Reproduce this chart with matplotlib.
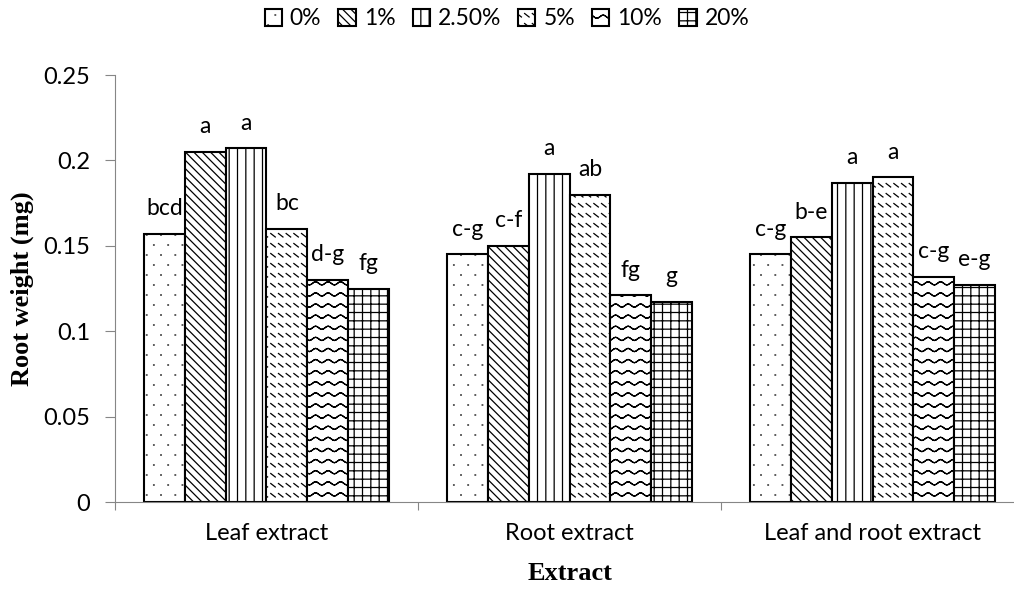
import warnings
import numpy as np
import matplotlib
matplotlib.use("Agg")
import matplotlib.pyplot as plt
import matplotlib.hatch as mhatch
from matplotlib.path import Path

warnings.filterwarnings("ignore")

# data
extracts = ["Leaf extract", "Root extract", "Leaf and root extract"]
levels = ["0%", "1%", "2.50%", "5%", "10%", "20%"]
leaf = [0.157, 0.205, 0.207, 0.160, 0.130, 0.125]
root = [0.145, 0.150, 0.192, 0.180, 0.121, 0.117]
leaf_root = [0.145, 0.155, 0.187, 0.190, 0.132, 0.127]
leaf_letters = ["bcd", "a", "a", "bc", "d-g", "fg"]
root_letters = ["c-g", "c-f", "a", "ab", "fg", "g"]
leaf_root_letters = ["c-g", "b-e", "a", "a", "c-g", "e-g"]


# custom hatches: sparse dots (p), short backslash strokes (k), waves (w)
class DotHatch(mhatch.HatchPatternBase):
    rows, cols = 10, 7

    def __init__(self, hatch, density):
        self.num_vertices = 2 * self.rows * self.cols if 'p' in hatch else 0

    def set_vertices_and_codes(self, vertices, codes):
        k = 0
        for i in range(self.rows):
            y = (i + 0.5) / self.rows
            shift = 0.5 / self.cols if i % 2 else 0.0
            for j in range(self.cols):
                x = (j + 0.25) / self.cols + shift
                vertices[k] = (x, y)
                vertices[k + 1] = (x + 0.006, y)
                k += 2
        codes[0::2] = Path.MOVETO
        codes[1::2] = Path.LINETO


class StrokeHatch(mhatch.HatchPatternBase):
    rows, cols = 10, 13

    def __init__(self, hatch, density):
        self.num_vertices = 2 * self.rows * self.cols if 'k' in hatch else 0

    def set_vertices_and_codes(self, vertices, codes):
        k = 0
        for i in range(self.rows):
            y = (i + 0.3) / self.rows
            for j in range(self.cols):
                x = (j + 0.2) / self.cols
                vertices[k] = (x, y + 0.035)
                vertices[k + 1] = (x + 0.045, y)
                k += 2
        codes[0::2] = Path.MOVETO
        codes[1::2] = Path.LINETO


class WaveHatch(mhatch.HatchPatternBase):
    rows, periods, steps = 9, 8, 64

    def __init__(self, hatch, density):
        n = 2 * (self.steps + 1)
        self.num_vertices = self.rows * n if 'w' in hatch else 0

    def set_vertices_and_codes(self, vertices, codes):
        x = np.linspace(0, 1, self.steps + 1)
        xx = np.concatenate([x, x[::-1]])
        n = len(xx)
        for i in range(self.rows):
            y = (i + 0.5) / self.rows + 0.016 * np.sin(2 * np.pi * self.periods * xx)
            vertices[i * n:(i + 1) * n, 0] = xx
            vertices[i * n:(i + 1) * n, 1] = y
            codes[i * n] = Path.MOVETO
            codes[i * n + 1:(i + 1) * n] = Path.LINETO


mhatch._hatch_types.extend([DotHatch, StrokeHatch, WaveHatch])

plt.rcParams['font.family'] = ['Lato', 'DejaVu Sans']
plt.rcParams['hatch.linewidth'] = 0.9
plt.rcParams['hatch.color'] = 'black'

hatches = ['p', '\\\\\\\\', '||', 'k', 'w', '++']
grey = '#868686'

fig = plt.figure(figsize=(10.14, 5.92), dpi=100)
ax = fig.add_axes([0.1134, 0.152, 0.8965, 0.7213])

values = np.array([leaf, root, leaf_root])
letters = [leaf_letters, root_letters, leaf_root_letters]
x = np.arange(len(extracts)) + 0.5
w = 0.1345

for i, lev in enumerate(levels):
    pos = x + (i - 2.5) * w
    bars = ax.bar(pos, values[:, i], width=w, color='white', edgecolor='black',
                  linewidth=1.5, hatch=hatches[i], label=lev)
    for g, b in enumerate(bars):
        ax.annotate(letters[g][i], (b.get_x() + w / 2, b.get_height()),
                    xytext=(0, 13.5), textcoords='offset points',
                    ha='center', va='baseline', fontsize=16.5)

ax.set_xlim(0, 3)
ax.set_ylim(0, 0.25)
ax.set_yticks([0, 0.05, 0.1, 0.15, 0.2, 0.25])
ax.set_yticklabels(['0', '0.05', '0.1', '0.15', '0.2', '0.25'])
ax.set_xticks([0, 1, 2, 3])
ax.set_xticklabels([])
ax.set_xticks(x, minor=True)
ax.set_xticklabels(extracts, minor=True)
ax.tick_params(axis='x', which='major', length=6, color=grey, width=0.8)
ax.tick_params(axis='x', which='minor', length=0, pad=15, labelsize=17)
ax.tick_params(axis='y', length=7, color=grey, width=0.8, pad=11, labelsize=17)

for s in ['top', 'right']:
    ax.spines[s].set_visible(False)
for s in ['left', 'bottom']:
    ax.spines[s].set_color(grey)
    ax.spines[s].set_linewidth(0.8)

ax.set_xlabel('Extract', family='Liberation Serif', fontweight='bold', fontsize=19)
ax.xaxis.set_label_coords(0.5005, -0.14)
ax.set_ylabel('Root weight (mg)', family='Liberation Serif', fontweight='bold', fontsize=19)
ax.yaxis.set_label_coords(-0.089, 0.5)

fig.legend(loc='center', bbox_to_anchor=(0.5, 0.968), ncol=6, frameon=False,
           fontsize=16.5, handlelength=0.75, handleheight=0.75, handletextpad=0.35,
           columnspacing=0.75, borderaxespad=0)

fig.savefig('out.png', dpi=100)
